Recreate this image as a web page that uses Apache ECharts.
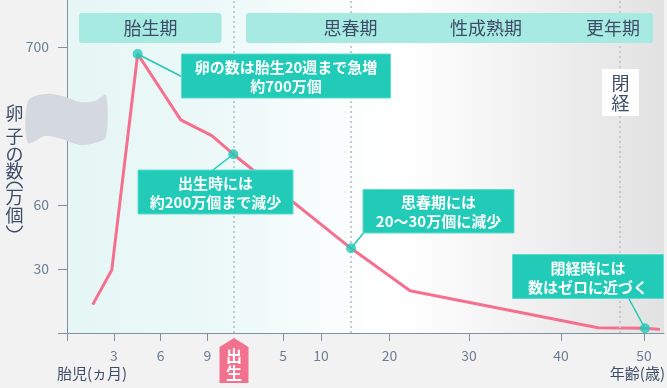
<!DOCTYPE html>
<html>
<head>
<meta charset="utf-8">
<title>卵子の数</title>
<style>
  body { margin: 0; padding: 0; background: #f2f2f2; }
  #main { width: 667px; height: 388px; }
</style>
</head>
<body>
<div id="main"></div>
<script src="https://cdn.jsdelivr.net/npm/echarts@6/dist/echarts.min.js"></script>
<script>
// 横軸は「胎児(ヵ月)」と「年齢(歳)」をつないだ模式的な目盛り
var pointX = [1.65, 2.87, 4.53, 7.29, 9.28, 10.66, 18.21, 21.99, 34.04, 37.05, 38.01];
var pointY = [13.3, 29.5, 130.8, 99.9, 92.5, 83.8, 39.7, 19.8, 2.5, 2.2, 1.7];
var markedIdx = [2, 5, 6, 9]; // 吹き出しの付く点
var stageLines = [10.66, 18.21, 35.45]; // 出生・思春期・閉経
var xTickPos = [3, 6, 9, 13.85, 16.28, 20.67, 25.77, 31.67, 36.99];
var xTickLabels = ['3', '6', '9', '5', '10', '20', '30', '40', '50'];
var yTickPos = [30, 60, 134.1];
var yTickLabels = ['30', '60', '700'];
var noteTexts = [
  '卵の数は胎生20週まで急増\n約700万個',
  '出生時には\n約200万個まで減少',
  '思春期には\n20～30万個に減少',
  '閉経時には\n数はゼロに近づく'
];

var FONT = '"Noto Sans CJK JP", "Noto Sans", sans-serif';
var TEAL = '#21cbb7';
var PINK = '#f5708e';
var NAVY = '#3d4d68';
var AXIS = '#7d92a6';

var myChart = echarts.init(document.getElementById('main'));

var lineData = [];
for (var i = 0; i < pointX.length; i++) {
  lineData.push([pointX[i], pointY[i]]);
}
var dotData = [];
for (var j = 0; j < markedIdx.length; j++) {
  dotData.push(lineData[markedIdx[j]]);
}

function pickLabel(v, pos, labels) {
  var best = 0;
  for (var k = 1; k < pos.length; k++) {
    if (Math.abs(pos[k] - v) < Math.abs(pos[best] - v)) best = k;
  }
  return Math.abs(pos[best] - v) < 0.01 ? labels[best] : '';
}

myChart.setOption({
  animation: false,
  textStyle: { fontFamily: FONT },
  grid: {
    left: 67, right: 3, top: 0, bottom: 55,
    show: true,
    borderWidth: 0,
    backgroundColor: new echarts.graphic.LinearGradient(0, 0, 1, 0, [
      { offset: 0, color: '#e5f6f5' },
      { offset: 0.28, color: '#eef9f9' },
      { offset: 0.5, color: '#fdfefe' },
      { offset: 0.56, color: '#ffffff' },
      { offset: 1, color: '#e2e2e2' }
    ])
  },
  xAxis: {
    type: 'value',
    min: 0,
    max: 38.27,
    splitLine: { show: false },
    axisLine: { lineStyle: { color: AXIS, width: 1 } },
    axisTick: {
      customValues: [0].concat(xTickPos),
      length: 8,
      lineStyle: { color: AXIS }
    },
    axisLabel: {
      customValues: xTickPos,
      margin: 16,
      fontSize: 14,
      color: '#6c7f94',
      formatter: function (v) { return pickLabel(v, xTickPos, xTickLabels); }
    }
  },
  yAxis: {
    type: 'value',
    min: 0,
    max: 156.1,
    splitLine: { show: false },
    axisLine: { show: true, lineStyle: { color: AXIS, width: 1 } },
    axisTick: {
      show: true,
      customValues: [0].concat(yTickPos),
      length: 9,
      lineStyle: { color: AXIS }
    },
    axisLabel: {
      customValues: yTickPos,
      margin: 18,
      fontSize: 14,
      color: '#6c7f94',
      formatter: function (v) { return pickLabel(v, yTickPos, yTickLabels); }
    }
  },
  series: [
    {
      type: 'line',
      data: lineData,
      showSymbol: false,
      lineStyle: { color: PINK, width: 3 },
      z: 3,
      markLine: {
        silent: true,
        symbol: 'none',
        label: { show: false },
        lineStyle: { color: '#c3cad2', width: 2, type: [2, 3] },
        data: stageLines.map(function (v) { return { xAxis: v }; })
      }
    },
    {
      type: 'scatter',
      data: dotData,
      symbolSize: 10,
      itemStyle: { color: TEAL },
      z: 6
    }
  ]
});

// 吹き出しの箱 [x, y, w, h] と線の付け根
var boxes = [
  [181.5, 54, 209, 44],
  [138, 170, 155, 44],
  [363, 189.5, 151, 43.5],
  [512.5, 254.5, 151, 44]
];
var roots = [
  [181.5, 76.5],
  [213, 170],
  [363.5, 233],
  [628.5, 298]
];

var g = [];
// 上部の時期の帯
g.push({ type: 'rect', shape: { x: 79, y: 13, width: 142.5, height: 30, r: 3 }, style: { fill: '#a6eae1' }, z: 50 });
g.push({ type: 'rect', shape: { x: 246, y: 13, width: 407, height: 30, r: 3 }, style: { fill: '#a6eae1' }, z: 50 });
var stageNames = [['胎生期', 150.5], ['思春期', 350.5], ['性成熟期', 486], ['更年期', 613]];
stageNames.forEach(function (s) {
  g.push({ type: 'text', z: 51, style: { text: s[0], x: s[1], y: 28.5, align: 'center', verticalAlign: 'middle', font: '18px ' + FONT, fill: NAVY } });
});
// 閉経
g.push({ type: 'rect', shape: { x: 602, y: 69, width: 37, height: 47 }, style: { fill: '#ffffff' }, z: 50 });
g.push({ type: 'text', z: 51, style: { text: '閉', x: 620.5, y: 83, align: 'center', verticalAlign: 'middle', font: '18px ' + FONT, fill: NAVY } });
g.push({ type: 'text', z: 51, style: { text: '経', x: 620.5, y: 103, align: 'center', verticalAlign: 'middle', font: '18px ' + FONT, fill: NAVY } });

// 吹き出し
for (var n = 0; n < boxes.length; n++) {
  var b = boxes[n];
  var p = myChart.convertToPixel({ gridIndex: 0 }, dotData[n]);
  g.push({ type: 'line', z: 40, shape: { x1: p[0], y1: p[1], x2: roots[n][0], y2: roots[n][1] }, style: { stroke: TEAL, lineWidth: 1.5 } });
  g.push({ type: 'rect', z: 52, shape: { x: b[0], y: b[1], width: b[2], height: b[3] }, style: { fill: TEAL, stroke: '#5cdccd', lineWidth: 1 } });
  g.push({ type: 'text', z: 53, style: { text: noteTexts[n], x: b[0] + b[2] / 2, y: b[1] + b[3] / 2 + 1, align: 'center', verticalAlign: 'middle', font: 'bold 15px ' + FONT, lineHeight: 19, fill: '#ffffff' } });
}

// 縦軸の省略記号（波形）
var wave = [[28, 101], [45, 94], [62, 96], [80, 102], [95, 101], [106, 95],
            [106, 137], [95, 143], [80, 145], [62, 139], [45, 136], [28, 143]];
g.push({ type: 'polygon', z: 60, shape: { points: wave, smooth: 0.3 }, style: { fill: '#d4d9e0' } });

// 縦軸名（縦書き）
var yName = [['卵', 113.5], ['子', 136], ['の', 154.5], ['数', 171.5], ['万', 197.5], ['個', 215.5]];
yName.forEach(function (c) {
  g.push({ type: 'text', z: 61, style: { text: c[0], x: 14.5, y: c[1], align: 'center', verticalAlign: 'middle', font: '18px ' + FONT, fill: NAVY } });
});
// 縦書きの括弧
g.push({ type: 'arc', z: 61, shape: { cx: 14.5, cy: 190.5, r: 8.3, startAngle: Math.PI * 1.08, endAngle: Math.PI * 1.92 }, style: { stroke: NAVY, lineWidth: 1.4, fill: null } });
g.push({ type: 'arc', z: 61, shape: { cx: 14.5, cy: 223.5, r: 8.3, startAngle: Math.PI * 0.08, endAngle: Math.PI * 0.92 }, style: { stroke: NAVY, lineWidth: 1.4, fill: null } });

// 出生タグ
g.push({ type: 'polygon', z: 60, shape: { points: [[234, 338], [248.5, 347], [248.5, 383], [219.5, 383], [219.5, 347]] }, style: { fill: '#f2718f' } });
g.push({ type: 'text', z: 61, style: { text: '出', x: 234, y: 356, align: 'center', verticalAlign: 'middle', font: 'bold 16px ' + FONT, fill: '#ffffff' } });
g.push({ type: 'text', z: 61, style: { text: '生', x: 234, y: 373, align: 'center', verticalAlign: 'middle', font: 'bold 16px ' + FONT, fill: '#ffffff' } });

// 横軸名
g.push({ type: 'text', z: 61, style: { text: '胎児(ヵ月)', x: 57, y: 373, align: 'left', verticalAlign: 'middle', font: '15px ' + FONT, fill: NAVY } });
g.push({ type: 'text', z: 61, style: { text: '年齢(歳)', x: 665, y: 373, align: 'right', verticalAlign: 'middle', font: '15px ' + FONT, fill: NAVY } });

myChart.setOption({ graphic: g });

window.addEventListener('resize', function () { myChart.resize(); });
</script>
</body>
</html>
